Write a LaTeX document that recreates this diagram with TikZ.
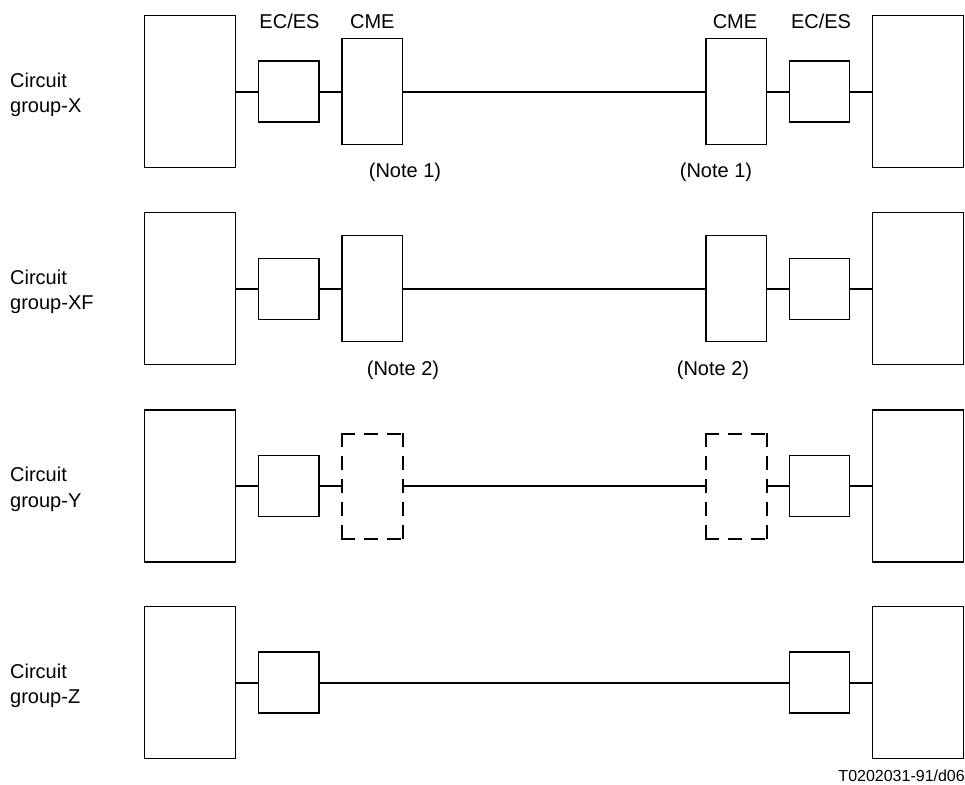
\documentclass[tikz,border=0pt]{standalone}
\usepackage{fontspec}
\setmainfont{Liberation Sans}
\begin{document}
\begin{tikzpicture}[x=1pt,y=-1pt,
  box/.style={draw, line width=1.3pt, inner sep=0pt, outer sep=0pt},
  bigbox/.style={box, minimum width=91pt, minimum height=152pt},
  ecbox/.style={box, minimum width=60.3pt, minimum height=61pt},
  cmebox/.style={box, minimum width=60.7pt, minimum height=106pt},
  dashbox/.style={inner sep=0pt, outer sep=0pt, minimum width=60.7pt, minimum height=105pt},
  dashside/.style={line width=2pt, line cap=rect, dash pattern=on 12pt off 11pt},
  conn/.style={line width=2pt},
  lbl/.style={font=\fontsize{20}{25.5}\selectfont, inner sep=0pt},
  grp/.style={lbl, align=left, anchor=north west},
  codelbl/.style={font=\fontsize{16}{19}\selectfont, inner sep=0pt, anchor=base east}]
\useasboundingbox (0,0) rectangle (965,784);

% ---------- Row X ----------
\node[bigbox] (xL) at (190.2,91.5) {};
\node[ecbox]  (xeL) at (288.9,91.5) {};
\node[cmebox] (xcL) at (372.3,91.5) {};
\node[cmebox] (xcR) at (736.2,91.5) {};
\node[ecbox]  (xeR) at (819.3,91.5) {};
\node[bigbox] (xR) at (917.7,91.5) {};
\draw[conn] (xL.east) -- (xeL.west) (xeL.east) -- (xcL.west)
  (xcL.east) -- (xcR.west) (xcR.east) -- (xeR.west) (xeR.east) -- (xR.west);
\node[grp] (gx) at (10,72.4) {Circuit\\group-X};
\node[lbl, anchor=base] (tecL) at (289.5,29) {EC/ES};
\node[lbl, anchor=base] (tcmL) at (372.3,29) {CME};
\node[lbl, anchor=base] (tcmR) at (735,29) {CME};
\node[lbl, anchor=base] (tecR) at (821,29) {EC/ES};
\node[lbl, anchor=base] (n1L) at (405,177) {(Note 1)};
\node[lbl, anchor=base] (n1R) at (716,177) {(Note 1)};

% ---------- Row XF ----------
\node[bigbox] (fL) at (190.2,288.7) {};
\node[ecbox]  (feL) at (288.9,288.7) {};
\node[cmebox] (fcL) at (372.3,288.7) {};
\node[cmebox] (fcR) at (736.2,288.7) {};
\node[ecbox]  (feR) at (819.3,288.7) {};
\node[bigbox] (fR) at (917.7,288.7) {};
\draw[conn] (fL.east) -- (feL.west) (feL.east) -- (fcL.west)
  (fcL.east) -- (fcR.west) (fcR.east) -- (feR.west) (feR.east) -- (fR.west);
\node[grp] (gf) at (10,269.6) {Circuit\\group-XF};
\node[lbl, anchor=base] (n2L) at (403,375) {(Note 2)};
\node[lbl, anchor=base] (n2R) at (713,375) {(Note 2)};

% ---------- Row Y ----------
\node[bigbox] (yL) at (190.2,486) {};
\node[ecbox]  (yeL) at (288.9,486) {};
\node[dashbox] (ycL) at (372.3,486) {};
\node[dashbox] (ycR) at (736.2,486) {};
\node[ecbox]  (yeR) at (819.3,486) {};
\node[bigbox] (yR) at (917.7,486) {};
\draw[dashside] (ycL.north west) -- (ycL.north east);
\draw[dashside] (ycL.north west) -- (ycL.south west);
\draw[dashside] (ycL.north east) -- (ycL.south east);
\draw[dashside] (ycL.south west) -- (ycL.south east);
\draw[dashside] (ycR.north west) -- (ycR.north east);
\draw[dashside] (ycR.north west) -- (ycR.south west);
\draw[dashside] (ycR.north east) -- (ycR.south east);
\draw[dashside] (ycR.south west) -- (ycR.south east);
\draw[conn] (yL.east) -- (yeL.west) (yeL.east) -- (ycL.west)
  (ycL.east) -- (ycR.west) (ycR.east) -- (yeR.west) (yeR.east) -- (yR.west);
\node[grp] (gy) at (10,466.9) {Circuit\\group-Y};

% ---------- Row Z ----------
\node[bigbox] (zL) at (190.2,682.5) {};
\node[ecbox]  (zeL) at (288.9,682.5) {};
\node[ecbox]  (zeR) at (819.3,682.5) {};
\node[bigbox] (zR) at (917.7,682.5) {};
\draw[conn] (zL.east) -- (zeL.west) (zeL.east) -- (zeR.west) (zeR.east) -- (zR.west);
\node[grp] (gz) at (10,663.4) {Circuit\\group-Z};

\node[codelbl] (code) at (965,781.5) {T0202031-91/d06};
\end{tikzpicture}
\end{document}
